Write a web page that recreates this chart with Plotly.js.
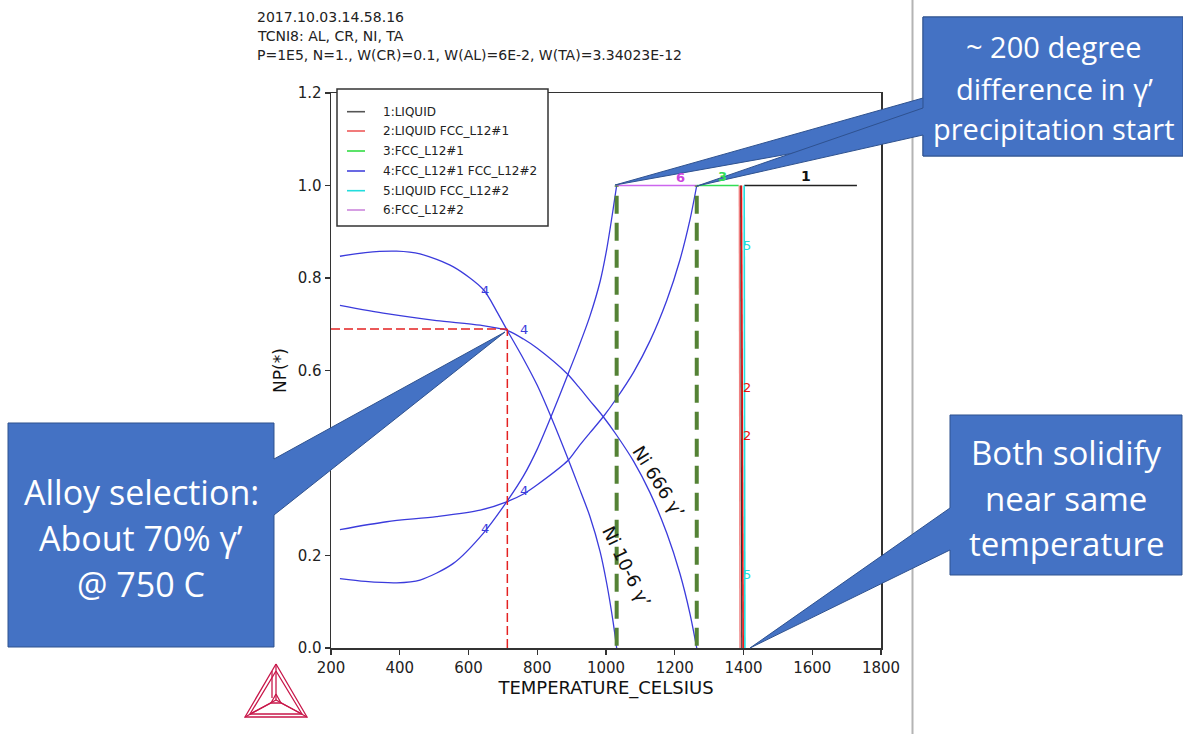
<!DOCTYPE html>
<html><head><meta charset="utf-8">
<script src="https://cdn.plot.ly/plotly-3.0.1.min.js"></script>
<style>html,body{margin:0;padding:0;background:#fff;overflow:hidden}#chart{width:1183px;height:734px;}</style>
</head><body><div id="chart"></div>
<script>
// ---- data ----
const ni106GammaPrimeT  = [226,300,391,459,556,643,682,711,760,800,840,890,920,953,983,1002,1021,1031];
const ni106GammaPrimeNP = [0.847,0.855,0.858,0.852,0.824,0.775,0.728,0.689,0.625,0.568,0.500,0.408,0.350,0.285,0.208,0.140,0.055,0.0];
const ni106GammaT  = [226,300,391,459,556,643,711,760,800,840,890,920,953,983,1002,1021,1031];
const ni106GammaNP = [0.150,0.144,0.141,0.147,0.183,0.248,0.316,0.372,0.430,0.500,0.593,0.650,0.717,0.793,0.862,0.950,1.0];
const ni666GammaPrimeT  = [226,362,507,634,711,760,800,887,920,953,992,1031,1080,1128,1177,1215,1244,1264];
const ni666GammaPrimeNP = [0.741,0.723,0.708,0.698,0.687,0.668,0.648,0.593,0.565,0.535,0.500,0.460,0.404,0.336,0.248,0.161,0.075,0.0];
const ni666GammaT  = [226,362,507,634,711,760,800,890,920,953,992,1031,1080,1128,1177,1215,1244,1264];
const ni666GammaNP = [0.256,0.273,0.284,0.298,0.316,0.333,0.353,0.406,0.435,0.465,0.500,0.540,0.596,0.664,0.752,0.839,0.925,1.0];

const fccL12_2T = [1031,1264];   const fccL12_2NP = [1.0,1.0];
const fccL12_1T = [1264,1386];   const fccL12_1NP = [1.0,1.0];
const liquidT   = [1402,1730];   const liquidNP   = [1.0,1.0];
const liqFcc1aT = [1388,1390];   const liqFcc1aNP = [1.0,0.0];
const liqFcc1bT = [1394,1399];   const liqFcc1bNP = [1.0,0.0];
const liqVertT  = [1392,1395];   const liqVertNP  = [1.0,0.0];
const liqFcc2T  = [1402,1404];   const liqFcc2NP  = [1.0,0.0];

const selectionT = 713, selectionNP = 0.69;
const precipStartT = [1031,1264];

const xTicks = [200,400,600,800,1000,1200,1400,1600,1800];
const yTicks = [0,0.2,0.4,0.6,0.8,1.0,1.2];

const legendLabels = ['1:LIQUID','2:LIQUID FCC_L12#1','3:FCC_L12#1','4:FCC_L12#1 FCC_L12#2','5:LIQUID FCC_L12#2','6:FCC_L12#2'];
const legendColors = ['#555555','#ee5a5a','#33dd44','#4444dd','#22dddd','#cc88dd'];

const headerLines = ['2017.10.03.14.58.16','TCNI8: AL, CR, NI, TA','P=1E5, N=1., W(CR)=0.1, W(AL)=6E-2, W(TA)=3.34023E-12'];
const calloutLeft  = ['Alloy selection:','About 70% γ’','@ 750 C'];
const calloutTop   = ['~ 200 degree','difference in γ’','precipitation start'];
const calloutRight = ['Both solidify','near same','temperature'];

// ---- pixel -> paper helpers (plot area 331..881 x 93..648) ----
const PL=331, PR=881, PT=93, PB=648;
const px = x => (x-PL)/(PR-PL);
const py = y => (PB-y)/(PB-PT);
const path = pts => 'M ' + pts.map(p => px(p[0]).toFixed(5)+' '+py(p[1]).toFixed(5)).join(' L ') + ' Z';
const openPath = pts => 'M ' + pts.map(p => px(p[0]).toFixed(5)+' '+py(p[1]).toFixed(5)).join(' L ');

const BLUE = '#3b3bdc';
const traces = [];
function curve(x,y,color,width,shape,dash){
  traces.push({x:x,y:y,type:'scatter',mode:'lines',showlegend:false,hoverinfo:'skip',
    line:{color:color,width:width,shape:shape||'linear',smoothing:0.8,dash:dash||'solid'}});
}
curve(ni106GammaPrimeT,ni106GammaPrimeNP,BLUE,1.3,'spline');
curve(ni106GammaT,ni106GammaNP,BLUE,1.3,'spline');
curve(ni666GammaPrimeT,ni666GammaPrimeNP,BLUE,1.3,'spline');
curve(ni666GammaT,ni666GammaNP,BLUE,1.3,'spline');
curve(fccL12_2T,fccL12_2NP,'#cc66ee',1.3);
curve(fccL12_1T,fccL12_1NP,'#33dd55',1.3);
curve(liquidT,liquidNP,'#222222',1.3);
curve(liqFcc1aT,liqFcc1aNP,'#f08080',1.5);
curve(liqVertT,liqVertNP,'#333333',1.2);
curve(liqFcc1bT,liqFcc1bNP,'#e81010',1.6);
curve(liqFcc2T,liqFcc2NP,'#22e0e0',1.6);
curve([200,selectionT],[selectionNP,selectionNP],'#e42222',1.5,'linear','9px,4px');
curve([selectionT,selectionT],[0,selectionNP],'#e42222',1.5,'linear','9px,4px');
precipStartT.forEach(t => curve([t,t],[0.005,1.0],'#548235',4,'linear','18px,9px'));

const annotations = [];
function ann(o){ annotations.push(Object.assign({showarrow:false},o)); }
// phase number labels
const lab = (t,n,txt,col,sz) => ann({x:t,y:n,xref:'x',yref:'y',text:txt,font:{family:'DejaVu Sans',size:sz||13,color:col}});
lab(649,0.772,'4',BLUE); lab(760,0.689,'4',BLUE); lab(760,0.341,'4',BLUE); lab(647,0.258,'4',BLUE);
lab(1218,1.018,'<b>6</b>','#cc44dd'); lab(1340,1.02,'<b>3</b>','#33dd55'); lab(1582,1.02,'<b>1</b>','#111',14);
lab(1410,0.87,'5','#22dddd'); lab(1410,0.158,'5','#22dddd');
lab(1410,0.564,'2','#e81010'); lab(1410,0.46,'2','#e81010');
// alloy names along curves
ann({x:1152,y:0.359,xref:'x',yref:'y',text:'Ni 666 γ’',textangle:58,font:{family:'DejaVu Sans',size:18,color:'#111'}});
ann({x:1060,y:0.176,xref:'x',yref:'y',text:'Ni 10-6 γ’',textangle:64,font:{family:'DejaVu Sans',size:18,color:'#111'}});
// header
headerLines.forEach((t,i) => ann({x:px(255),y:py(17+19*i),xref:'paper',yref:'paper',xanchor:'left',yanchor:'middle',text:t,font:{family:'DejaVu Sans',size:14,color:'#222'}}));
// legend text
const legY = [111.7,131,151,171,190.7,210];
legendLabels.forEach((t,i) => ann({x:px(381),y:py(legY[i]),xref:'paper',yref:'paper',xanchor:'left',yanchor:'middle',text:t,font:{family:'DejaVu Sans',size:12,color:'#222'}}));
// callout texts
const cFont = s => ({family:'Open Sans',size:s,color:'#ffffff'});
calloutLeft.forEach((t,i) => ann({x:px(141),y:py([492,538,584][i]),xref:'paper',yref:'paper',xanchor:'center',yanchor:'middle',text:t,font:cFont(34)}));
calloutTop.forEach((t,i) => ann({x:px(1054),y:py([47,88,128][i]),xref:'paper',yref:'paper',xanchor:'center',yanchor:'middle',text:t,font:cFont(29)}));
calloutRight.forEach((t,i) => ann({x:px(1066),y:py([452,498,543][i]),xref:'paper',yref:'paper',xanchor:'center',yanchor:'middle',text:t,font:cFont(33)}));

const shapes = [];
const CFILL = '#4472c4', CLINE = '#2f528f';
// legend box and samples
shapes.push({type:'rect',xref:'paper',yref:'paper',x0:px(337),x1:px(548),y0:py(226),y1:py(89),fillcolor:'#ffffff',line:{color:'#333',width:1.5},layer:'above'});
legendColors.forEach((c,i) => shapes.push({type:'line',xref:'paper',yref:'paper',x0:px(347),x1:px(365),y0:py(legY[i]),y1:py(legY[i]),line:{color:c,width:1.6},layer:'above'}));
// separator line of the slide
shapes.push({type:'line',xref:'paper',yref:'paper',x0:px(912.5),x1:px(912.5),y0:py(0),y1:py(734),line:{color:'#b4b4b4',width:2},layer:'above'});
// callouts
const callout = pts => shapes.push({type:'path',xref:'paper',yref:'paper',path:path(pts),fillcolor:CFILL,line:{color:CLINE,width:1},layer:'above'});
callout([[8,423],[274,423],[274,459],[505,332],[274,515],[274,647],[8,647]]);
callout([[923,17],[1183,17],[1183,156],[923,156],[923,130],[615,185],[923,98]]);
callout([[923,17],[1183,17],[1183,156],[923,156],[923,135],[697,186],[923,108]]);
callout([[950,415],[1182,415],[1182,575],[950,575],[950,550],[750,648],[950,508]]);
// Thermo-Calc logo
const LOGO = '#c8174a';
const logoLine = pts => shapes.push({type:'path',xref:'paper',yref:'paper',path:openPath(pts),line:{color:LOGO,width:1.3},layer:'above'});
logoLine([[276,664],[245,717],[307,717],[276,664]]);
logoLine([[276,671],[250,714],[302,714],[276,671]]);
logoLine([[276,664],[276,700]]);
logoLine([[245,717],[276,700],[307,717]]);
logoLine([[272,671],[272,698]]);
logoLine([[250,714],[271,703]]);
logoLine([[302,714],[281,703]]);
logoLine([[276,694],[271,703],[281,703],[276,694]]);

const axisCommon = {showline:true,mirror:true,linecolor:'#333',linewidth:1.5,ticks:'outside',ticklen:5,tickwidth:1.2,tickcolor:'#333',
  showgrid:false,zeroline:false,tickfont:{family:'DejaVu Sans',size:15,color:'#222'}};
const layout = {
  width:1183,height:734,margin:{l:PL,r:1183-PR,t:PT,b:734-PB},
  paper_bgcolor:'#ffffff',plot_bgcolor:'#ffffff',showlegend:false,
  xaxis:Object.assign({},axisCommon,{range:[200,1800],tickvals:xTicks,
    title:{text:'TEMPERATURE_CELSIUS',font:{family:'DejaVu Sans',size:18,color:'#111'},standoff:6}}),
  yaxis:Object.assign({},axisCommon,{range:[0,1.2],tickvals:yTicks,tickformat:'.1f',
    title:{text:'NP(*)',font:{family:'DejaVu Sans',size:17,color:'#111'},standoff:6}}),
  shapes:shapes,annotations:annotations
};
Plotly.newPlot('chart',traces,layout,{displayModeBar:false,staticPlot:true});
</script></body></html>
